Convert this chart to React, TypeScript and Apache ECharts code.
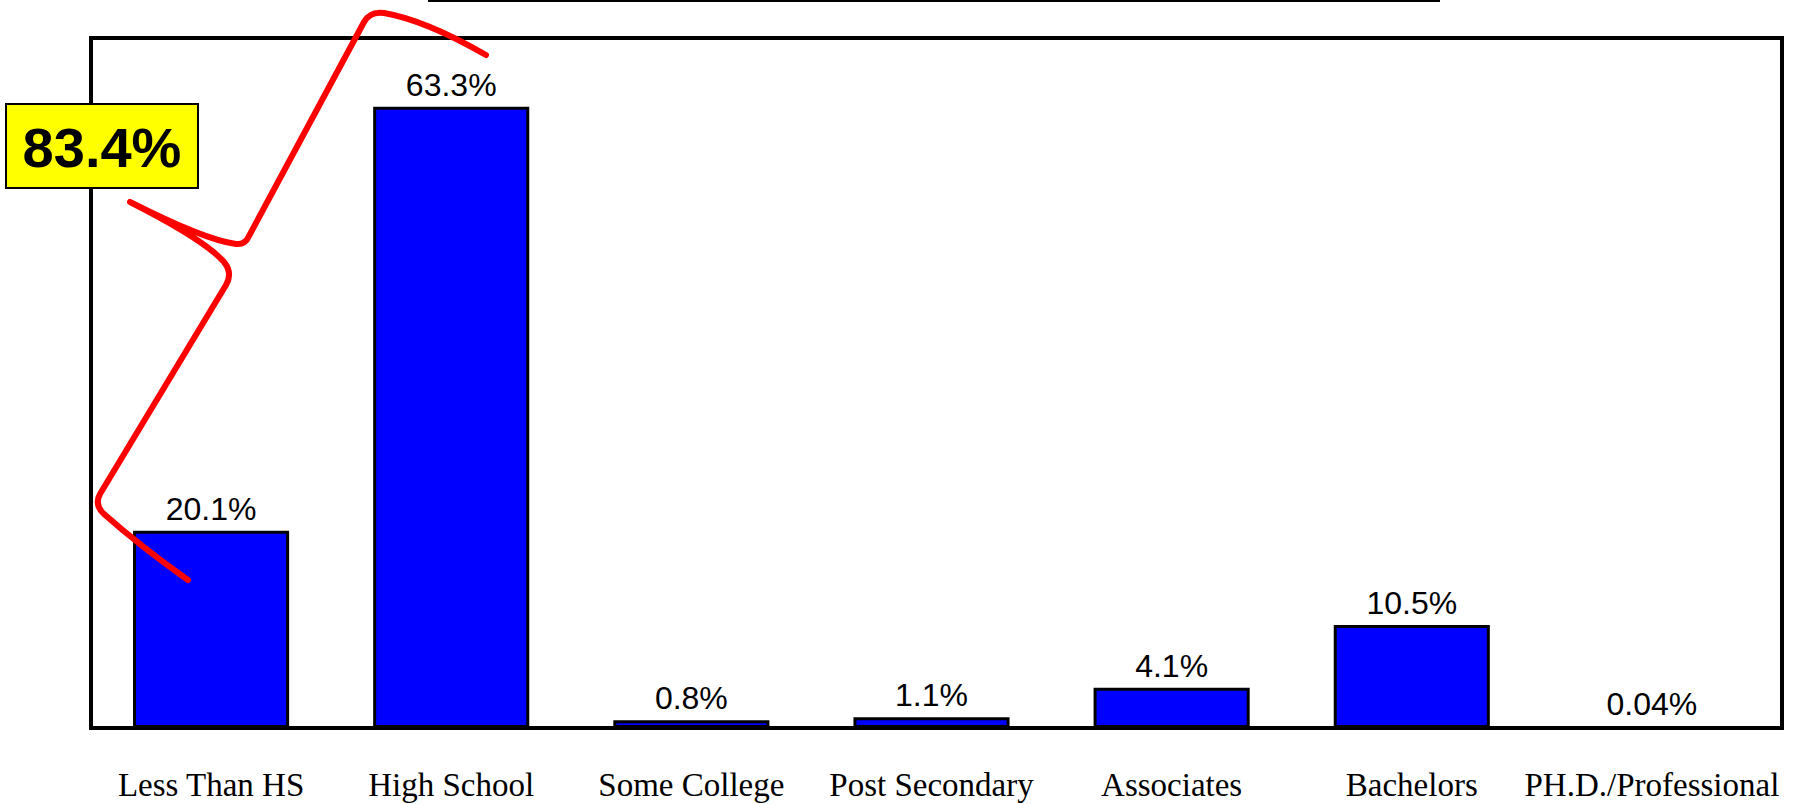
import React, { useEffect, useRef } from "react";
import * as echarts from "echarts";

const categories = [
  "Less Than HS",
  "High School",
  "Some College",
  "Post Secondary",
  "Associates",
  "Bachelors",
  "PH.D./Professional",
];
const values = [20.1, 63.3, 0.8, 1.1, 4.1, 10.5, 0.04];
const combinedLabel = "83.4%";
const yMax = 70;

const bracePath =
  "M 130 202 Q 205 240 236 244 Q 245 245 249 236 L 364 22 Q 370 11 384 13 Q 425 20 486 55 " +
  "M 130 202 Q 205 240 224 262 Q 233 273 226 285 L 100 494 Q 94 505 104 514 Q 140 546 188 580";

let registered = false;

export default function App() {
  const ref = useRef<HTMLDivElement>(null);

  useEffect(() => {
    if (!ref.current) return;
    if (!registered) {
      echarts.graphic.registerShape("brace", echarts.graphic.extendPath(bracePath, {}));
      registered = true;
    }
    const chart = echarts.init(ref.current, null, { renderer: "svg" });
    chart.setOption({
      animation: false,
      backgroundColor: "#ffffff",
      grid: [
        {
          left: 91,
          top: 41,
          right: 34,
          bottom: 76,
          show: false,
        },
        {
          left: 91,
          top: 38,
          right: 24,
          bottom: 76,
          show: true,
          borderColor: "#000000",
          borderWidth: 4,
          backgroundColor: "transparent",
        },
      ],
      xAxis: [
        {
          type: "category",
          gridIndex: 0,
          data: categories,
          axisTick: { show: false },
          axisLine: { show: false },
          axisLabel: {
            interval: 0,
            margin: 40,
            color: "#000000",
            fontFamily: "'Liberation Serif', 'Times New Roman', serif",
            fontSize: 33,
          },
        },
        {
          type: "category",
          gridIndex: 1,
          data: [""],
          show: false,
        },
      ],
      yAxis: [
        {
          type: "value",
          gridIndex: 0,
          min: 0,
          max: yMax,
          axisLabel: { show: false },
          axisLine: { show: false },
          axisTick: { show: false },
          splitLine: { show: false },
        },
        {
          type: "value",
          gridIndex: 1,
          show: false,
          splitLine: { show: false },
        },
      ],
      series: [
        {
          type: "bar",
          xAxisIndex: 0,
          yAxisIndex: 0,
          data: values,
          barWidth: "65%",
          itemStyle: { color: "#0000FF", borderColor: "#000000", borderWidth: 3 },
          label: {
            show: true,
            position: "top",
            distance: 6,
            color: "#000000",
            fontFamily: "'Liberation Sans', Arial, sans-serif",
            fontSize: 32,
            formatter: (p: any) => `${p.value}%`,
          },
        },
      ],
      graphic: [
        {
          type: "line",
          z: 100,
          shape: { x1: 428, y1: 1, x2: 1440, y2: 1 },
          style: { stroke: "#000000", lineWidth: 2 },
        },
        {
          type: "brace",
          z: 100,
          x: 0,
          y: 0,
          scaleX: 1,
          scaleY: 1,
          style: {
            stroke: "#FF0000",
            lineWidth: 6,
            fill: "none",
            lineCap: "round",
            lineJoin: "round",
          },
        },
        {
          type: "rect",
          z: 101,
          shape: { x: 6, y: 104, width: 192, height: 84 },
          style: { fill: "#FFFF00", stroke: "#000000", lineWidth: 2 },
        },
        {
          type: "text",
          z: 102,
          x: 102,
          y: 147,
          style: {
            text: combinedLabel,
            fill: "#000000",
            font: "bold 56px 'Liberation Sans', Arial, sans-serif",
            align: "center",
            verticalAlign: "middle",
          },
        },
      ],
    });
    return () => chart.dispose();
  }, []);

  return (
    <div
      ref={ref}
      style={{ position: "fixed", left: 0, top: 0, width: 1806, height: 804 }}
    />
  );
}
